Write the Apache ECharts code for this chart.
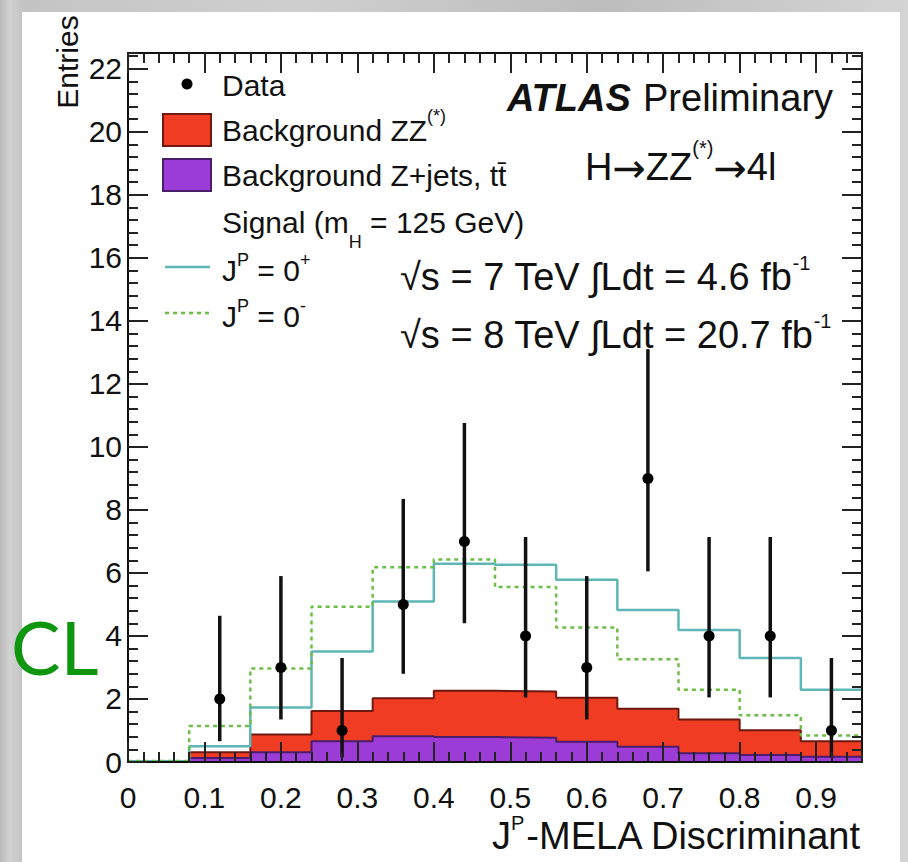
<!DOCTYPE html>
<html><head><meta charset="utf-8">
<script src="https://cdn.jsdelivr.net/npm/echarts@6/dist/echarts.min.js"></script>
<style>
html,body{margin:0;padding:0;width:908px;height:862px;overflow:hidden;background:#c6c6c6;}
#bg{position:absolute;left:0;top:0;width:908px;height:862px;
 background:linear-gradient(90deg,#b9b9b9 0px,#d2d2d2 10px,#c4c4c4 22px,#cfcfcf 300px,#bdbdbd 600px,#d4d4d4 908px);}
#panel{position:absolute;left:22px;top:12px;width:878px;height:850px;background:#fff;}
#chart{position:absolute;left:0;top:0;width:908px;height:862px;}
</style></head><body>
<div id="bg"></div><div id="panel"></div><div id="chart"></div>
<script>
const FONT = '"Liberation Sans", Arial, Helvetica, sans-serif';

// ---- data ----
const binEdges   = [0, 0.08, 0.16, 0.24, 0.32, 0.40, 0.48, 0.56, 0.64, 0.72, 0.80, 0.88, 0.96];
const bkgZZ      = [0.01, 0.18, 0.56, 0.96, 1.20, 1.47, 1.47, 1.40, 1.21, 1.07, 0.79, 0.49];
const bkgZjets   = [0.01, 0.13, 0.31, 0.66, 0.82, 0.79, 0.77, 0.64, 0.48, 0.28, 0.22, 0.17];
const sig0plus   = [0.02, 0.50, 1.73, 3.51, 5.09, 6.29, 6.26, 5.78, 4.82, 4.19, 3.30, 2.29];
const sig0minus  = [0.03, 1.14, 2.97, 4.93, 6.18, 6.43, 5.55, 4.27, 3.26, 2.29, 1.48, 0.84];
const dataX      = [0.12, 0.20, 0.28, 0.36, 0.44, 0.52, 0.60, 0.68, 0.76, 0.84, 0.92];
const dataY      = [2, 3, 1, 5, 7, 4, 3, 9, 4, 4, 1];
const dataErrLo  = [0.66, 1.35, 0.15, 2.80, 4.40, 2.05, 1.35, 6.05, 2.05, 2.05, 0.15];
const dataErrHi  = [4.64, 5.90, 3.30, 8.35, 10.76, 7.14, 5.90, 13.10, 7.14, 7.14, 3.30];
const xTickLabels = ['0', '0.1', '0.2', '0.3', '0.4', '0.5', '0.6', '0.7', '0.8', '0.9'];
const yTickLabels = ['0', '2', '4', '6', '8', '10', '12', '14', '16', '18', '20', '22'];

const bkgTotal = bkgZZ.map((v, i) => v + bkgZjets[i]);
function stepData(vals) {
  const d = vals.map((v, i) => [binEdges[i], v]);
  d.push([binEdges[vals.length], vals[vals.length - 1]]);
  return d;
}

const chart = echarts.init(document.getElementById('chart'), null, {renderer: 'svg', width: 908, height: 862});

const tickStyle = {color: '#222', width: 2};
function xAx(pos, major) {
  return {
    type: 'value', min: 0, max: 0.96, interval: major ? 0.1 : 0.02, position: pos, z: 10,
    axisLine: {show: major, onZero: false, lineStyle: {color: '#111', width: 2}},
    axisTick: {show: true, inside: true, length: major ? 20 : 10, lineStyle: tickStyle},
    axisLabel: {show: major && pos === 'bottom', margin: 20, color: '#111', fontSize: 30, fontFamily: FONT,
      showMaxLabel: false,
      formatter: v => { const k = Math.round(v * 10); return (Math.abs(v * 10 - k) < 1e-6 && k < xTickLabels.length) ? xTickLabels[k] : ''; }},
    splitLine: {show: false}
  };
}
function yAx(pos, major) {
  return {
    type: 'value', min: 0, max: 22.5, interval: major ? 2 : 0.4, position: pos, z: 10,
    axisLine: {show: major, onZero: false, lineStyle: {color: '#111', width: 2}},
    axisTick: {show: true, inside: true, length: major ? 20 : 10, lineStyle: tickStyle},
    axisLabel: {show: major && pos === 'left', margin: 6, color: '#111', fontSize: 30, fontFamily: FONT,
      showMaxLabel: false,
      formatter: v => { const k = Math.round(v / 2); return (Math.abs(v / 2 - k) < 1e-6 && k < yTickLabels.length) ? yTickLabels[k] : ''; }},
    splitLine: {show: false}
  };
}

function richText(x, yc, parts, F, S, dSup, dSub, align, extra) {
  const P = Math.max(0, dSup - F / 2 + S / 2);
  const mc = P + F / 2;
  const rich = {
    n:   {fontSize: F, fontFamily: FONT, lineHeight: F, padding: [P, 0, 0, 0], verticalAlign: 'top', fill: '#111'},
    ar:  {fontSize: F * 1.05, fontFamily: '"DejaVu Sans", sans-serif', lineHeight: F, padding: [P, 0, 0, 0], verticalAlign: 'top', fill: '#111'},
    sup: {fontSize: S, fontFamily: FONT, lineHeight: S, padding: [Math.max(0, mc - dSup - S / 2), 0, 0, 0], verticalAlign: 'top', fill: '#111'},
    sub: {fontSize: S, fontFamily: FONT, lineHeight: S, padding: [Math.max(0, mc + dSub - S / 2), 0, 0, 0], verticalAlign: 'top', fill: '#111'},
    bi:  {fontSize: F, fontFamily: FONT, fontWeight: 'bold', fontStyle: 'italic', lineHeight: F, padding: [P, 0, 0, 0], verticalAlign: 'top', fill: '#111'}
  };
  const text = parts.map(p => '{' + p[0] + '|' + p[1] + '}').join('');
  return Object.assign({type: 'text', x: x, y: yc - mc, z: 50,
    style: {text: text, rich: rich, align: align, textAlign: align, verticalAlign: 'top', textVerticalAlign: 'top'}}, extra || {});
}

const graphics = [
  // legend
  {type: 'circle', shape: {cx: 187, cy: 84, r: 5.5}, style: {fill: '#000'}, z: 50},
  {type: 'rect', shape: {x: 163, y: 114, width: 48, height: 32}, style: {fill: '#ef3c23', stroke: '#6e1810', lineWidth: 2}, z: 50},
  {type: 'rect', shape: {x: 163, y: 159, width: 48, height: 32}, style: {fill: '#9b3cd7', stroke: '#4b1c6b', lineWidth: 2}, z: 50},
  {type: 'line', shape: {x1: 165, y1: 267, x2: 210, y2: 267}, style: {stroke: '#5fb6b6', lineWidth: 2.5}, z: 50},
  {type: 'line', shape: {x1: 165, y1: 313, x2: 209, y2: 313}, style: {stroke: '#6cbe46', lineWidth: 2.5, lineDash: [4, 4]}, z: 50},
  richText(222, 85, [['n', 'Data']], 30, 18, 12, 12, 'left'),
  richText(222, 130, [['n', 'Background ZZ'], ['sup', '(*)']], 30, 18, 14, 12, 'left'),
  richText(222, 175, [['n', 'Background Z+jets, tt\u0304']], 30, 18, 12, 12, 'left'),
  richText(222, 222, [['n', 'Signal (m'], ['sub', 'H'], ['n', ' = 125 GeV)']], 30, 18, 12, 20, 'left'),
  richText(222, 270, [['n', 'J'], ['sup', 'P'], ['n', ' = 0'], ['sup', '+']], 30, 18, 10, 12, 'left'),
  richText(222, 316, [['n', 'J'], ['sup', 'P'], ['n', ' = 0'], ['sup', '-']], 30, 18, 10, 12, 'left'),
  // labels
  richText(507, 98, [['bi', 'ATLAS']], 38, 20, 14, 12, 'left'),
  richText(643, 98, [['n', 'Preliminary']], 38, 20, 14, 12, 'left'),
  richText(585, 167, [['n', 'H'], ['ar', '\u2192'], ['n', 'ZZ'], ['sup', '(*)'], ['ar', '\u2192'], ['n', '4l']], 38, 20, 19, 12, 'left'),
  richText(400, 277, [['n', '\u221As = 7 TeV \u222BLdt = 4.6 fb'], ['sup', '-1']], 38, 20, 14, 12, 'left'),
  richText(400, 335, [['n', '\u221As = 8 TeV \u222BLdt = 20.7 fb'], ['sup', '-1']], 38, 20, 14, 12, 'left'),
  // axis titles
  richText(860, 836, [['n', 'J'], ['sup', 'P'], ['n', '-MELA Discriminant']], 38, 20, 13, 12, 'right'),
  {type: 'text', x: 67, y: 62, rotation: Math.PI / 2, z: 50,
    style: {text: 'Entries', fontSize: 30, fontFamily: FONT, fill: '#111', align: 'center', textAlign: 'center', verticalAlign: 'middle', textVerticalAlign: 'middle'}},
  // CL
  {type: 'text', x: 11, y: 646, z: 50,
    style: {text: 'CL', fontSize: 74, fontFamily: 'Lato, "Open Sans", sans-serif', fontWeight: 'normal', fill: '#0e960e', align: 'left', textAlign: 'left', verticalAlign: 'middle', textVerticalAlign: 'middle'}}
];

const option = {
  animation: false,
  backgroundColor: 'transparent',
  grid: {left: 128, top: 53, width: 734, height: 709, containLabel: false},
  xAxis: [xAx('bottom', true), xAx('bottom', false), xAx('top', true), xAx('top', false)],
  yAxis: [yAx('left', true), yAx('left', false), yAx('right', true), yAx('right', false)],
  series: [
    {name: 'Background ZZ', type: 'line', step: 'end', data: stepData(bkgTotal), symbol: 'none', z: 2,
      lineStyle: {color: '#6e1810', width: 2}, areaStyle: {color: '#ef3c23', opacity: 1}},
    {name: 'Background Z+jets', type: 'line', step: 'end', data: stepData(bkgZjets), symbol: 'none', z: 3,
      lineStyle: {color: '#4b1c6b', width: 2}, areaStyle: {color: '#9b3cd7', opacity: 1}},
    {name: 'JP=0+', type: 'line', step: 'end', data: stepData(sig0plus), symbol: 'none', z: 4,
      lineStyle: {color: '#5fb6b6', width: 2.5}},
    {name: 'JP=0-', type: 'line', step: 'end', data: stepData(sig0minus), symbol: 'none', z: 5,
      lineStyle: {color: '#6cbe46', width: 2.5, type: [4, 4]}},
    {name: 'Data', type: 'custom', z: 6, encode: {x: 0, y: 1},
      data: dataX.map((x, i) => [x, dataY[i], dataErrLo[i], dataErrHi[i]]),
      renderItem: function (params, api) {
        const p = api.coord([api.value(0), api.value(1)]);
        const pl = api.coord([api.value(0), api.value(2)]);
        const ph = api.coord([api.value(0), api.value(3)]);
        return {type: 'group', children: [
          {type: 'line', shape: {x1: pl[0], y1: pl[1], x2: ph[0], y2: ph[1]}, style: {stroke: '#111', lineWidth: 3.5}},
          {type: 'circle', shape: {cx: p[0], cy: p[1], r: 5.5}, style: {fill: '#000'}}
        ]};
      }}
  ],
  graphic: {elements: graphics}
};
chart.setOption(option);
</script>
</body></html>
